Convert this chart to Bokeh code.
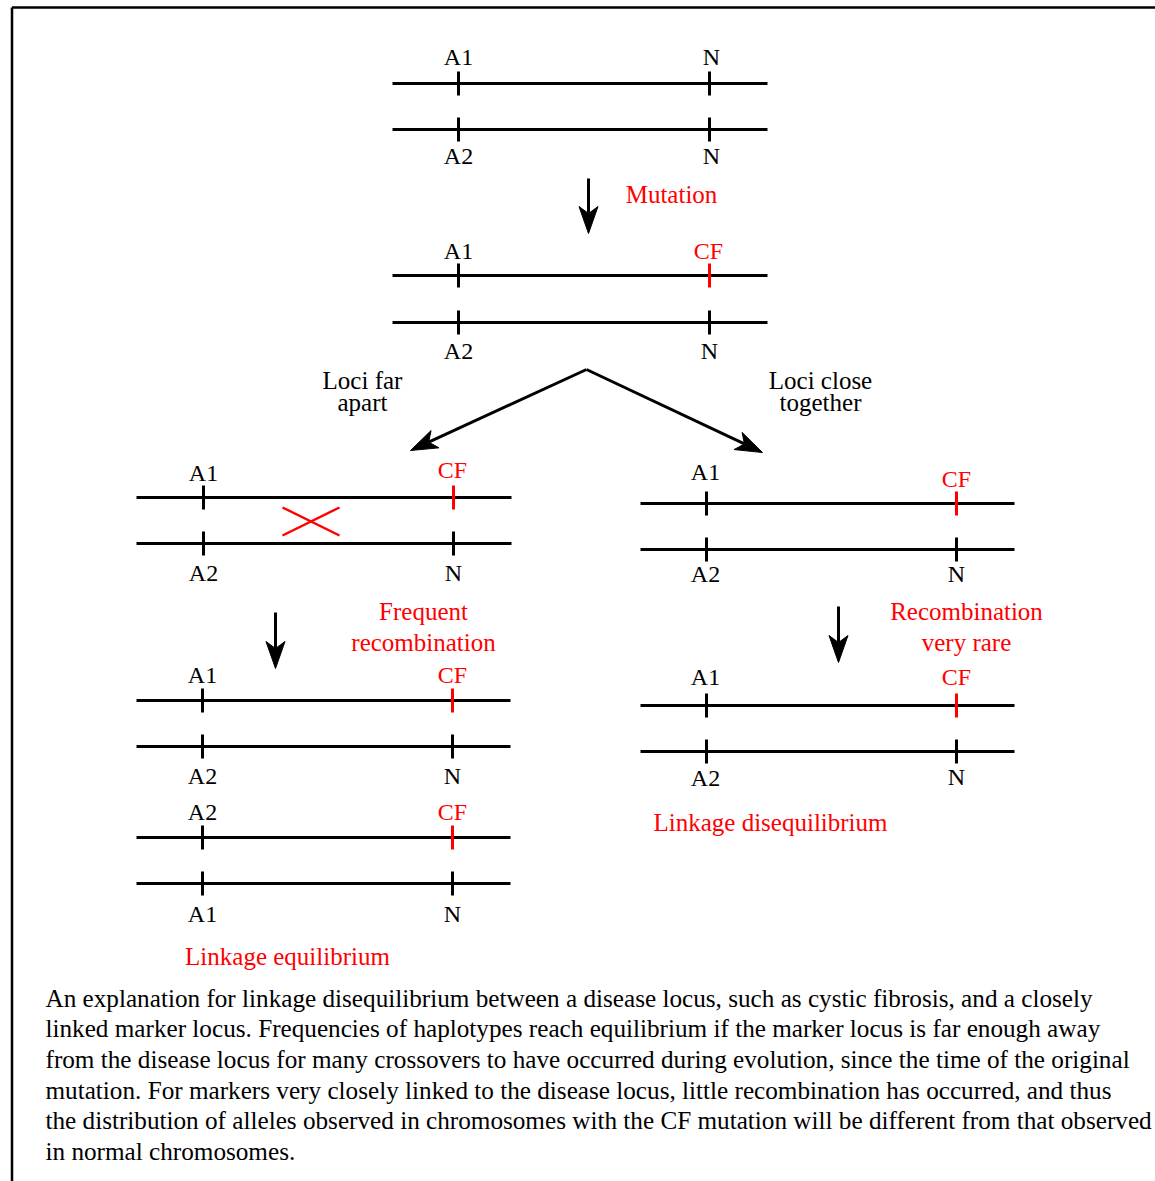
import math
from bokeh.plotting import figure
from bokeh.models import Range1d
from bokeh.core.properties import value
from bokeh.embed import file_html
from bokeh.resources import INLINE

W, H = 1155, 1181
FONT = "Liberation Serif"
RED = "#ff0000"

# chromosome pairs
pair_x0 = [392, 392, 136, 640, 136, 136, 640]
pair_x1 = [767, 767, 511, 1014, 510, 510, 1014]
pair_ytop = [83, 275, 497, 503, 700, 837, 705]
pair_ybot = [129, 322, 543, 549, 746, 883, 751]
pair_tick1 = [458, 458, 203, 706, 202, 202, 706]
pair_tick2 = [709, 709, 453, 956, 452, 452, 956]
pair_red = [False, True, True, True, True, True, True]

# locus labels
lab_text = ["A1", "N", "A2", "N",
            "A1", "CF", "A2", "N",
            "A1", "CF", "A2", "N",
            "A1", "CF", "A2", "N",
            "A1", "CF", "A2", "N",
            "A2", "CF", "A1", "N",
            "A1", "CF", "A2", "N"]
lab_x = [458, 711, 458, 711,
         458, 708, 458, 709,
         203, 452, 203, 453,
         705, 956, 705, 956,
         202, 452, 202, 452,
         202, 452, 202, 452,
         705, 956, 705, 956]
lab_y = [56, 56, 155, 155,
         250, 250, 350, 350,
         472, 469, 572, 572,
         471, 478, 573, 573,
         674, 674, 775, 775,
         811, 811, 913, 913,
         676, 676, 777, 776]

# annotation texts
note_text = ["Mutation", "Loci far", "apart", "Loci close", "together",
             "Frequent", "recombination", "Recombination", "very rare",
             "Linkage equilibrium", "Linkage disequilibrium"]
note_x = [671, 362, 362, 820, 820, 423, 423, 966, 966, 287, 770]
note_y = [194, 380, 402, 380, 402, 611, 642, 611, 642, 956, 822]
note_red = [True, False, False, False, False, True, True, True, True, True, True]

# arrows: start -> end (tip)
arr_x0 = [588, 586, 586, 275, 838]
arr_y0 = [178, 369, 369, 612, 606]
arr_x1 = [588, 410, 762, 275, 838]
arr_y1 = [233, 450, 452, 668, 662]

# crossover mark
cross_x0 = [282, 282]
cross_y0 = [507, 535]
cross_x1 = [339, 339]
cross_y1 = [535, 507]

caption = [
    "An explanation for linkage disequilibrium between a disease locus, such as cystic fibrosis, and a closely",
    "linked marker locus. Frequencies of haplotypes reach equilibrium if the marker locus is far enough away",
    "from the disease locus for many crossovers to have occurred during evolution, since the time of the original",
    "mutation. For markers very closely linked to the disease locus, little recombination has occurred, and thus",
    "the distribution of alleles observed in chromosomes with the CF mutation will be different from that observed",
    "in normal chromosomes.",
]
cap_y = [998, 1028, 1059, 1090, 1120, 1151]

p = figure(width=W, height=H, output_backend="svg", toolbar_location=None,
           x_range=Range1d(0, W), y_range=Range1d(H, 0),
           min_border=0, background_fill_color="white")
p.axis.visible = False
p.grid.visible = False
p.outline_line_color = None

# frame
p.segment(x0=[11.5, 11.5], y0=[7, 7], x1=[11.5, 1300], y1=[1300, 7],
          line_color="black", line_width=2.5)

# chromosomes
p.segment(x0=pair_x0 + pair_x0, y0=pair_ytop + pair_ybot,
          x1=pair_x1 + pair_x1, y1=pair_ytop + pair_ybot,
          line_color="black", line_width=3)
tx, ty, tc = [], [], []
for i in range(len(pair_x0)):
    for y in (pair_ytop[i], pair_ybot[i]):
        tx.append(pair_tick1[i]); ty.append(y); tc.append("black")
        red = pair_red[i] and y == pair_ytop[i]
        tx.append(pair_tick2[i]); ty.append(y); tc.append(RED if red else "black")
p.segment(x0=tx, y0=[y - 12 for y in ty], x1=tx, y1=[y + 12 for y in ty],
          line_color=tc, line_width=3)

# labels
lab_col = [RED if t == "CF" else "black" for t in lab_text]
p.text(x=lab_x, y=lab_y, text=lab_text, text_color=lab_col,
       text_font=value(FONT), text_font_size="24px",
       text_align="center", text_baseline="middle")
p.text(x=note_x, y=note_y, text=note_text,
       text_color=[RED if r else "black" for r in note_red],
       text_font=value(FONT), text_font_size="25px",
       text_align="center", text_baseline="middle")

# cross
p.segment(x0=cross_x0, y0=cross_y0, x1=cross_x1, y1=cross_y1,
          line_color=RED, line_width=2.5)

# arrows: shafts + notched heads
HEAD_L, HEAD_W, NOTCH = 27, 9.5, 7
sx0, sy0, sx1, sy1, hx, hy = [], [], [], [], [], []
for a, b, c, d in zip(arr_x0, arr_y0, arr_x1, arr_y1):
    L = math.hypot(c - a, d - b)
    ux, uy = (c - a) / L, (d - b) / L
    nx, ny = -uy, ux
    bx, by = c - ux * HEAD_L, d - uy * HEAD_L
    mx, my = c - ux * (HEAD_L - NOTCH), d - uy * (HEAD_L - NOTCH)
    sx0.append(a); sy0.append(b); sx1.append(mx); sy1.append(my)
    hx.append([c, bx + nx * HEAD_W, mx, bx - nx * HEAD_W])
    hy.append([d, by + ny * HEAD_W, my, by - ny * HEAD_W])
p.segment(x0=sx0, y0=sy0, x1=sx1, y1=sy1, line_color="black", line_width=3)
p.patches(xs=hx, ys=hy, fill_color="black", line_color="black", line_width=1)

# caption
p.text(x=[45] * len(caption), y=cap_y, text=caption, text_color="black",
       text_font=value(FONT), text_font_size="25.2px",
       text_align="left", text_baseline="middle")

open("out.html", "w").write(file_html(p, INLINE))
